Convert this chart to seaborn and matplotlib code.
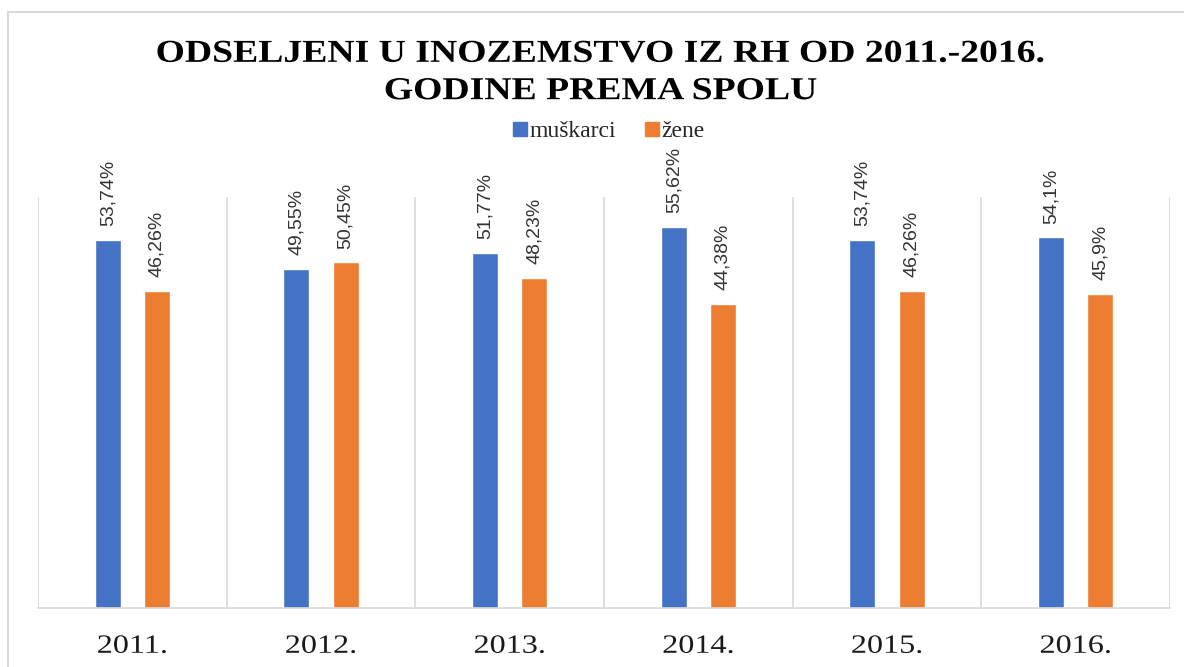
import matplotlib
matplotlib.use("Agg")
import matplotlib.pyplot as plt
import matplotlib.patheffects as pe
from matplotlib.transforms import Affine2D
import seaborn as sns
import pandas as pd
from matplotlib.patches import Rectangle
from matplotlib.lines import Line2D

years = ["2011.", "2012.", "2013.", "2014.", "2015.", "2016."]
muskarci = [53.74, 49.55, 51.77, 55.62, 53.74, 54.1]
zene = [46.26, 50.45, 48.23, 44.38, 46.26, 45.9]
series_names = ["muškarci", "žene"]
colors = ["#4472C4", "#ED7D31"]
title = "ODSELJENI U INOZEMSTVO IZ RH OD 2011.-2016.\nGODINE PREMA SPOLU"


class Stretch(pe.AbstractPathEffect):
    """Widen text horizontally about its own centre (imitates letter spacing)."""

    def __init__(self, sx):
        super().__init__()
        self.sx = sx

    def draw_path(self, renderer, gc, tpath, affine, rgbFace=None):
        ext = tpath.get_extents(affine)
        cx = 0.5 * (ext.x0 + ext.x1)
        new = affine + Affine2D().translate(-cx, 0).scale(self.sx, 1).translate(cx, 0)
        renderer.draw_path(gc, tpath, new, rgbFace)


df = pd.DataFrame({
    "year": years * 2,
    "value": muskarci + zene,
    "spol": [series_names[0]] * len(years) + [series_names[1]] * len(years),
})

sns.set_theme(style="white")
plt.rcParams["font.family"] = ["Liberation Serif", "DejaVu Serif"]

W, H = 1184, 667
fig = plt.figure(figsize=(W / 100, H / 100), dpi=100)
ax = fig.add_axes([38 / W, 1 - 608 / H, (1170 - 38) / W, (608 - 197) / H])

sns.barplot(data=df, x="year", y="value", hue="spol", palette=colors,
            width=0.52, gap=0.47, ax=ax, legend=False, saturation=1)

ax.set_ylim(0, 60)
ax.set_xlim(-0.5, len(years) - 0.5)
ax.set_xlabel("")
ax.set_ylabel("")
ax.set_yticks([])
for s in ["top", "right", "left"]:
    ax.spines[s].set_visible(False)
ax.spines["bottom"].set_color("#d9d9d9")
ax.spines["bottom"].set_linewidth(1.2)

# category separators
for b in range(len(years) + 1):
    ax.axvline(b - 0.5, color="#d9d9d9", lw=1.2, zorder=0)

ax.tick_params(axis="x", length=0, pad=20, labelsize=19, labelcolor="#1a1a1a")
for t in ax.get_xticklabels():
    t.set_fontfamily(["Liberation Serif"])
    t.set_path_effects([Stretch(1.22)])

for cont in ax.containers:
    labels = [f"{b.get_height():g}".replace(".", ",") + "%" for b in cont]
    ax.bar_label(cont, labels=labels, rotation=90, padding=10,
                 fontsize=14, family=["Liberation Sans"], color="#333333")

# legend
handles = [Line2D([0], [0], marker="s", linestyle="", markersize=10,
                  markerfacecolor=c, markeredgecolor=c) for c in colors]
fig.legend(handles, series_names, loc="center", bbox_to_anchor=(609 / W, 1 - 131 / H),
           ncol=2, frameon=False, handletextpad=0.1,
           columnspacing=1.2, handlelength=0.6,
           prop={"family": "Liberation Serif", "size": 17})

fig.text(601 / W, 1 - 73 / H, title, ha="center", va="center",
         fontsize=23, fontweight="bold", family=["Liberation Serif"],
         linespacing=1.38, color="#000000", path_effects=[Stretch(1.18)])

# outer chart border
fig.patches.append(Rectangle((8 / W, -0.05), 1.1, 1 - 12 / H + 0.05,
                             transform=fig.transFigure, fill=False,
                             edgecolor="#d9d9d9", lw=1.5))

fig.savefig("out.png", dpi=100)
